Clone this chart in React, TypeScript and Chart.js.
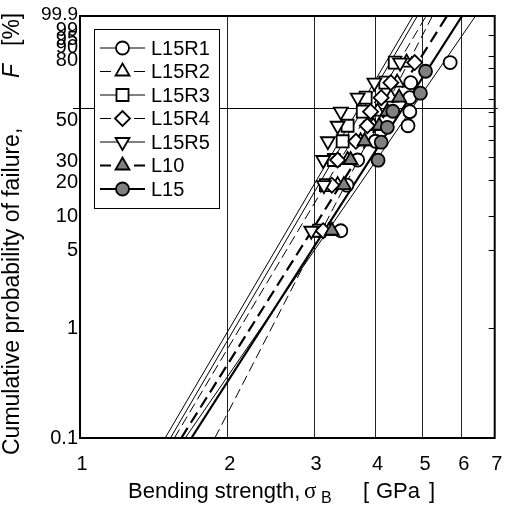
import React, { useEffect, useRef } from 'react';
import { Chart, registerables } from 'chart.js';
Chart.register(...registerables);

// ---------------- data ----------------
const SERIES = ['L15R1', 'L15R2', 'L15R3', 'L15R4', 'L15R5', 'L10', 'L15'];
// median-rank failure probabilities [%]
const RANK_F = [7.4, 18.1, 28.7, 39.4, 50.0, 60.6, 71.3, 81.9, 92.6];
// bending strength [GPa]
const L15R1 = [3.40, 3.50, 3.68, 4.00, 4.66, 4.70, 4.70, 4.72, 5.68];
const L15R2 = [3.22, 3.35, 3.51, 3.73, 3.96, 4.04, 4.30, 4.43, 4.63];
const L15R3 = [3.07, 3.17, 3.29, 3.43, 3.51, 3.77, 3.82, 4.19, 4.38];
const L15R4 = [3.13, 3.26, 3.35, 3.65, 3.85, 3.91, 4.11, 4.30, 4.81];
const L15R5 = [2.96, 3.14, 3.13, 3.20, 3.35, 3.40, 3.68, 3.98, 4.49];
const L10_F = [7.4, 18.1, 28.7, 39.4, 50.0, 60.6, 71.3];
const L10 = [3.26, 3.45, 3.56, 3.80, 4.07, 4.23, 4.47];
const L15_F = [28.6, 38.8, 48.9, 60.9, 74.6, 88.6];
const L15 = [4.05, 4.11, 4.23, 4.34, 4.94, 5.06];
// Weibull fit parameters (shape m, scale sigma0 [GPa])
const SHAPE_M = [6.49, 8.66, 7.63, 7.48, 7.60, 7.09, 6.96];
const SCALE_S0 = [4.75, 4.18, 3.78, 3.92, 3.70, 4.26, 4.55];
// axes
const X_TICKS = [1, 2, 3, 4, 5, 6, 7];
const Y_LABELS = ['0.1', '1', '5', '10', '20', '30', '50', '80', '90', '95', '99', '99.9'];
const Y_MINOR = [1, 5, 10, 20, 30, 40, 50, 60, 70, 80, 90, 95, 99];
const F_MIN = 0.1;
const F_MAX = 99.9;

// ---------------- helpers ----------------
const toX = (s: number) => Math.log(s);
const toY = (f: number) => Math.log(-Math.log(1 - f / 100));

const SANS = '"Liberation Sans", Arial, sans-serif';

type Sty = { shape: string; rot: number; r: number; fill: string; lw: number; dash: number[] };
const STYLES: Sty[] = [
  { shape: 'circle', rot: 0, r: 6.5, fill: '#fff', lw: 1, dash: [] },
  { shape: 'triangle', rot: 0, r: 8, fill: '#fff', lw: 1, dash: [10, 5] },
  { shape: 'rect', rot: 0, r: 8.5, fill: '#fff', lw: 1, dash: [] },
  { shape: 'rectRot', rot: 0, r: 7.5, fill: '#fff', lw: 1, dash: [10, 5] },
  { shape: 'triangle', rot: 180, r: 8, fill: '#fff', lw: 1, dash: [] },
  { shape: 'triangle', rot: 0, r: 8, fill: '#808080', lw: 2.2, dash: [12, 6] },
  { shape: 'circle', rot: 0, r: 6.5, fill: '#808080', lw: 2.2, dash: [] },
];
const MARK_BW = 1.8;

const VALUES = [L15R1, L15R2, L15R3, L15R4, L15R5, L10, L15];
const FVALS = [RANK_F, RANK_F, RANK_F, RANK_F, RANK_F, L10_F, L15_F];

// label vertical nudges (px) to mimic the original layout
const Y_LABEL_NUDGE: Record<string, number> = {
  '0.1': 0, '1': 1, '5': 0, '10': 1, '20': 3, '30': 4, '50': -5, '80': -25, '90': -21, '95': -16, '99': -5, '99.9': -1,
};

function drawMarker(ctx: CanvasRenderingContext2D, st: Sty, x: number, y: number) {
  ctx.save();
  ctx.fillStyle = st.fill;
  ctx.strokeStyle = '#000';
  ctx.lineWidth = MARK_BW;
  ctx.setLineDash([]);
  ctx.beginPath();
  const r = st.r;
  if (st.shape === 'circle') {
    ctx.arc(x, y, r, 0, Math.PI * 2);
  } else if (st.shape === 'rect') {
    const s = r * Math.SQRT1_2;
    ctx.rect(x - s, y - s, 2 * s, 2 * s);
  } else if (st.shape === 'rectRot') {
    ctx.moveTo(x - r, y); ctx.lineTo(x, y - r); ctx.lineTo(x + r, y); ctx.lineTo(x, y + r); ctx.closePath();
  } else {
    let a = (st.rot * Math.PI) / 180;
    ctx.moveTo(x + Math.sin(a) * r, y - Math.cos(a) * r);
    a += (2 * Math.PI) / 3;
    ctx.lineTo(x + Math.sin(a) * r, y - Math.cos(a) * r);
    a += (2 * Math.PI) / 3;
    ctx.lineTo(x + Math.sin(a) * r, y - Math.cos(a) * r);
    ctx.closePath();
  }
  ctx.fill();
  ctx.stroke();
  ctx.restore();
}

const decor = {
  id: 'decor',
  beforeDatasetsDraw(chart: any) {
    const { ctx, chartArea: a, scales } = chart;
    const y = scales.y;
    ctx.save();
    ctx.strokeStyle = '#000';
    ctx.lineWidth = 1;
    ctx.beginPath();
    const p0 = Math.round(y.getPixelForValue(0)) + 0.5;
    ctx.moveTo(a.left - 7, p0);
    ctx.lineTo(a.right + 3, p0);
    for (const f of Y_MINOR) {
      const p = Math.round(y.getPixelForValue(toY(f))) + 0.5;
      ctx.moveTo(a.right - 6, p);
      ctx.lineTo(a.right, p);
    }
    ctx.stroke();
    ctx.restore();
  },
  afterDatasetsDraw(chart: any) {
    const { ctx, chartArea: a } = chart;
    ctx.save();
    // frame
    ctx.strokeStyle = '#000';
    ctx.lineWidth = 2;
    ctx.strokeRect(a.left, a.top, a.right - a.left, a.bottom - a.top);
    // legend
    const lx = 94, ly = 29, lw = 125, lh = 179;
    ctx.fillStyle = '#fff';
    ctx.fillRect(lx, ly, lw, lh);
    ctx.lineWidth = 1;
    ctx.strokeRect(lx + 0.5, ly + 0.5, lw, lh);
    SERIES.forEach((name, i) => {
      const st = STYLES[i];
      const cy = 48 + i * 23.5;
      ctx.strokeStyle = '#000';
      ctx.lineWidth = st.lw;
      ctx.beginPath();
      if (st.dash.length) {
        ctx.moveTo(100, cy); ctx.lineTo(111, cy);
        ctx.moveTo(134, cy); ctx.lineTo(145, cy);
      } else {
        ctx.moveTo(100, cy); ctx.lineTo(145, cy);
      }
      ctx.stroke();
      drawMarker(ctx, st, 122.5, cy);
      ctx.fillStyle = '#000';
      ctx.font = `20px ${SANS}`;
      ctx.textBaseline = 'middle';
      ctx.textAlign = 'left';
      ctx.fillText(name, 151, cy + 1);
    });
    ctx.restore();
  },
  afterDraw(chart: any) {
    const { ctx, scales } = chart;
    const y = scales.y;
    const x = scales.x;
    ctx.save();
    ctx.fillStyle = '#000';
    // y tick labels
    ctx.textAlign = 'right';
    ctx.textBaseline = 'middle';
    for (const lab of Y_LABELS) {
      ctx.font = `${lab === '99.9' ? 19 : 20}px ${SANS}`;
      const p = y.getPixelForValue(toY(parseFloat(lab))) + (Y_LABEL_NUDGE[lab] || 0);
      ctx.fillText(lab, 78, p);
    }
    // x tick labels
    ctx.textAlign = 'center';
    ctx.font = `20px ${SANS}`;
    for (const v of X_TICKS) {
      ctx.fillText(String(v), x.getPixelForValue(toX(v)) + 2, 464);
    }
    // x title
    ctx.textAlign = 'left';
    ctx.textBaseline = 'alphabetic';
    ctx.font = `22px ${SANS}`;
    ctx.fillText('Bending strength,', 128, 498);
    ctx.font = `23px "Liberation Serif", serif`;
    ctx.fillText('σ', 304, 498);
    ctx.font = `16px ${SANS}`;
    ctx.fillText('B', 321, 503);
    ctx.font = `22px ${SANS}`;
    ctx.fillText('[', 363, 498);
    ctx.fillText('GPa', 376, 498);
    ctx.fillText(']', 429, 498);
    // y title (rotated)
    ctx.translate(19, 0);
    ctx.rotate(-Math.PI / 2);
    ctx.font = `23px ${SANS}`;
    ctx.fillText('Cumulative probability of failure,', -455, 0);
    ctx.font = `italic 23px ${SANS}`;
    ctx.fillText('F', -78, 0);
    ctx.font = `23px ${SANS}`;
    ctx.fillText('[%]', -46, 0);
    ctx.restore();
  },
};

export default function App() {
  const ref = useRef<HTMLCanvasElement>(null);
  useEffect(() => {
    const yMin = toY(F_MIN);
    const yMax = toY(F_MAX);
    const pointSets: any[] = [];
    const lineSets: any[] = [];
    SERIES.forEach((name, i) => {
      const st = STYLES[i];
      pointSets.push({
        label: name,
        data: VALUES[i].map((s, j) => ({ x: toX(s), y: toY(FVALS[i][j]) })),
        showLine: false,
        pointStyle: st.shape,
        pointRotation: st.rot,
        pointRadius: st.r,
        pointBorderWidth: MARK_BW,
        pointBackgroundColor: st.fill,
        pointBorderColor: '#000',
      });
      const lnS0 = Math.log(SCALE_S0[i]);
      const m = SHAPE_M[i];
      lineSets.push({
        label: name + ' fit',
        data: [
          { x: lnS0 + yMin / m, y: yMin },
          { x: lnS0 + yMax / m, y: yMax },
        ],
        showLine: true,
        pointRadius: 0,
        borderColor: '#000',
        borderWidth: st.lw,
        borderDash: st.dash,
      });
    });
    // earliest datasets are drawn last (on top)
    const datasets = [...pointSets.reverse(), ...lineSets];
    const chart = new Chart(ref.current!, {
      type: 'scatter',
      data: { datasets },
      options: {
        responsive: false,
        animation: false,
        devicePixelRatio: 1,
        layout: { padding: { top: 16, right: 5, left: 0, bottom: 0 } },
        plugins: { legend: { display: false }, tooltip: { enabled: false } },
        scales: {
          x: {
            type: 'linear',
            min: 0,
            max: Math.log(7),
            afterBuildTicks: (s: any) => { s.ticks = X_TICKS.map((v) => ({ value: Math.log(v) })); },
            afterFit: (s: any) => { s.height = 68; },
            ticks: { display: false },
            grid: {
              drawTicks: false,
              lineWidth: 1,
              color: (c: any) => (c.index > 0 && c.index < X_TICKS.length - 1 ? '#222' : 'rgba(0,0,0,0)'),
            },
            border: { display: false },
          },
          y: {
            type: 'linear',
            min: yMin,
            max: yMax,
            afterFit: (s: any) => { s.width = 80; },
            ticks: { display: false },
            grid: { display: false },
            border: { display: false },
          },
        },
      } as any,
      plugins: [decor],
    });
    return () => chart.destroy();
  }, []);
  return (
    <div style={{ position: 'absolute', left: 0, top: 0, width: 505, height: 506, background: '#fff' }}>
      <canvas ref={ref} width={505} height={506} style={{ display: 'block', width: 505, height: 506 }} />
    </div>
  );
}
